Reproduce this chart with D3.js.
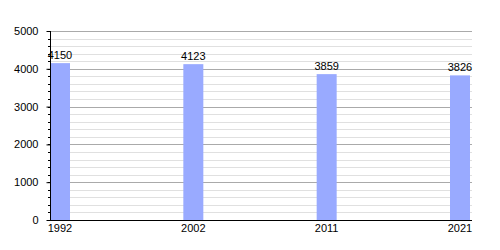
<!DOCTYPE html>
<html>
<head>
<meta charset="utf-8">
<script src="https://cdn.jsdelivr.net/npm/d3@7"></script>
<style>
  body { margin: 0; background: #fff; }
  text { font-family: "Liberation Sans", Arial, sans-serif; font-size: 11px; fill: #000; }
</style>
</head>
<body>
<script>
// population per census year
var years  = ["1992", "2002", "2011", "2021"];
var values = [4150, 4123, 3859, 3826];
var yMajor = [0, 1000, 2000, 3000, 4000, 5000];

var W = 500, H = 250;
var mLeft = 50, mRight = 470, mTop = 31, mBottom = 220;

var svg = d3.select("body").append("svg")
    .attr("width", W)
    .attr("height", H);

var x = d3.scaleBand()
    .domain(years)
    .range([mLeft, mRight])
    .paddingInner(0.85)
    .paddingOuter(0);

var y = d3.scaleLinear()
    .domain([0, 5000])
    .range([mBottom, mTop]);

var minor = d3.range(0, 5001, 200);

// minor grid
svg.append("g").selectAll("line")
    .data(minor.filter(function(v) { return v % 1000 != 0; }))
    .enter().append("line")
    .attr("x1", mLeft).attr("x2", mRight + 2)
    .attr("y1", function(v) { return Math.round(y(v)) + 0.5; })
    .attr("y2", function(v) { return Math.round(y(v)) + 0.5; })
    .style("stroke", "#e0e0e0")
    .style("stroke-width", 1);

// major grid
svg.append("g").selectAll("line")
    .data(yMajor.filter(function(v) { return v > 0; }))
    .enter().append("line")
    .attr("x1", mLeft).attr("x2", mRight + 2)
    .attr("y1", function(v) { return Math.round(y(v)) + 0.5; })
    .attr("y2", function(v) { return Math.round(y(v)) + 0.5; })
    .style("stroke", "#aaaaaa")
    .style("stroke-width", 1);

// bars
svg.append("g").selectAll("rect")
    .data(values)
    .enter().append("rect")
    .attr("x", function(d, i) { return x(years[i]); })
    .attr("y", function(d) { return y(d); })
    .attr("width", x.bandwidth())
    .attr("height", function(d) { return mBottom - y(d); })
    .attr("fill", "#99aaff");

// value labels
svg.append("g").selectAll("text")
    .data(values)
    .enter().append("text")
    .attr("x", function(d, i) { return x(years[i]) + x.bandwidth() / 2; })
    .attr("y", function(d) { return y(d) - 4; })
    .attr("text-anchor", "middle")
    .text(function(d) { return d; });

// y axis
var yAxis = svg.append("g")
    .attr("transform", "translate(" + (mLeft + 0.5) + ",0)")
    .call(d3.axisLeft(y).tickValues(yMajor).tickSize(4).tickPadding(8).tickFormat(d3.format("d")));
yAxis.select(".domain").remove();
yAxis.selectAll("text").style("font-size", "11px").style("font-family", "Liberation Sans, Arial, sans-serif");

svg.append("g").selectAll("line")
    .data(minor)
    .enter().append("line")
    .attr("x1", mLeft - 2).attr("x2", mLeft)
    .attr("y1", function(v) { return Math.round(y(v)) + 0.5; })
    .attr("y2", function(v) { return Math.round(y(v)) + 0.5; })
    .style("stroke", "#000");

svg.append("line")
    .attr("x1", mLeft + 0.5).attr("x2", mLeft + 0.5)
    .attr("y1", mTop).attr("y2", mBottom + 1)
    .style("stroke", "#000");

// x axis
svg.append("line")
    .attr("x1", mLeft).attr("x2", mRight + 2)
    .attr("y1", mBottom + 0.5).attr("y2", mBottom + 0.5)
    .style("stroke", "#000");

svg.append("g").selectAll("text")
    .data(years)
    .enter().append("text")
    .attr("x", function(d) { return x(d) + x.bandwidth() / 2; })
    .attr("y", mBottom + 12)
    .attr("text-anchor", "middle")
    .text(function(d) { return d; });
</script>
</body>
</html>
